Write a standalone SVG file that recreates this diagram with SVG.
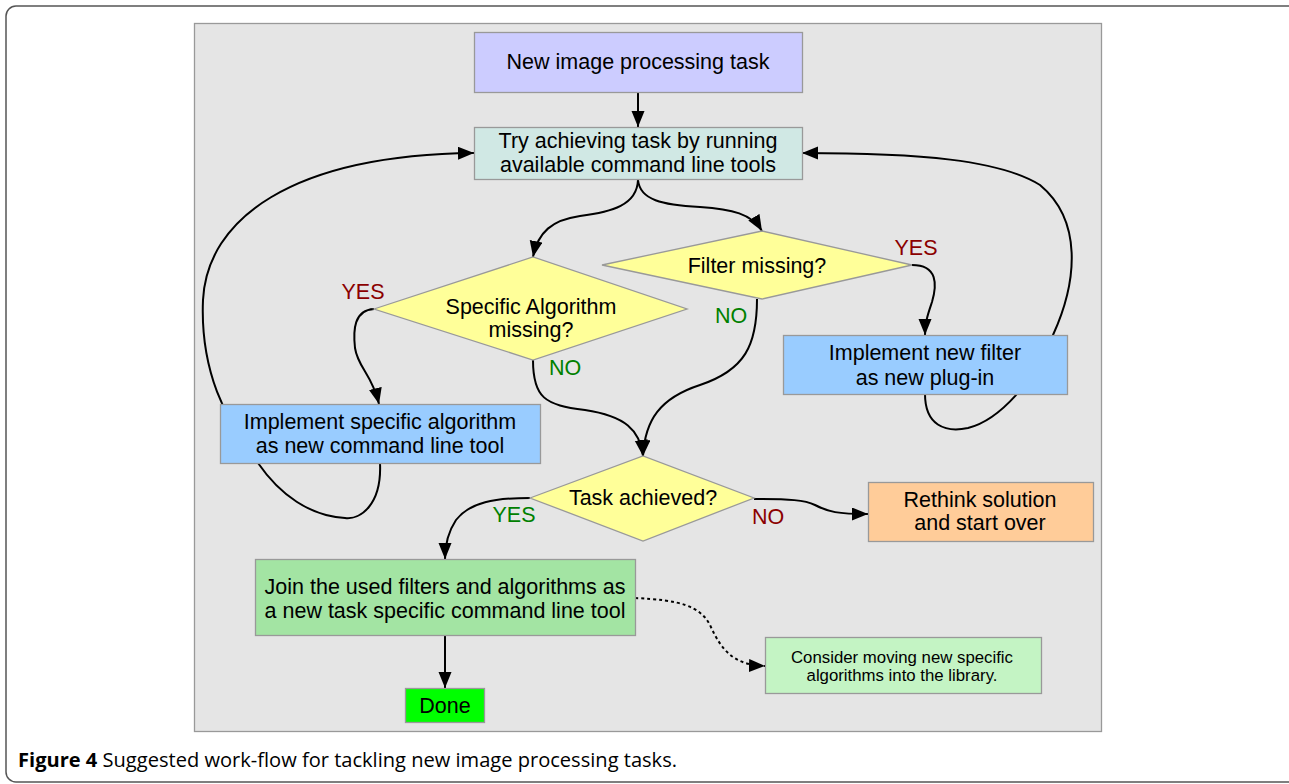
<svg xmlns="http://www.w3.org/2000/svg" width="1289" height="784" viewBox="0 0 1289 784">
<style>
.t{font-family:"Liberation Sans",Arial,sans-serif;font-size:21.5px;fill:#000;text-anchor:middle;dominant-baseline:central}
.s{font-size:16.8px}
.box{stroke:#999;stroke-width:1.3}
.c{fill:none;stroke:#000;stroke-width:2;marker-end:url(#ah)}
.red{fill:#8b0000}
.grn{fill:#008000}
</style>
<defs>
<marker id="ah" markerUnits="userSpaceOnUse" markerWidth="17" markerHeight="14" refX="16" refY="6.5" orient="auto">
<path d="M0,0 L16,6.5 L0,13 z" fill="#000"/>
</marker>
</defs>
<rect x="6" y="6" width="1300" height="776" rx="10" fill="#fff" stroke="#555" stroke-width="1.5"/>
<rect x="194.5" y="23.5" width="907" height="708" fill="#e5e5e5" stroke="#999" stroke-width="1.3"/>
<g id="connectors">
<path class="c" d="M638,92 L638,127"/>
<path class="c" d="M638,180 C637,205 612,212 580,216 C552,220 538,232 533,257"/>
<path class="c" d="M638,180 C640,200 662,205 700,207 C732,209 752,214 762,231"/>
<path class="c" d="M374,309 C354,310 353,330 355,348 C358,368 372,374 379,404"/>
<path class="c" d="M912,265 C938,265 937,285 932,302 C928,314 925,322 925,335"/>
<path class="c" d="M380,463 C382,505 360,520 345,518 C310,516 280,495 258,463 C225,420 200,370 203,300 C207,220 290,155 474,153"/>
<path class="c" d="M925,394 C925,425 945,433 968,428 C1000,420 1035,380 1053,335 C1078,280 1082,220 1040,185 C1000,160 920,153 802,153"/>
<path class="c" d="M533,360 C533,398 545,405 585,410 C625,416 640,430 643,456"/>
<path class="c" d="M757,299 C757,345 745,370 700,385 C660,398 645,420 643,456"/>
<path class="c" d="M530,498 C495,498 470,502 456,520 C448,532 445,545 445,559"/>
<path class="c" d="M754,499 C790,499 805,500 815,505 C828,512 838,514 868,514"/>
<path class="c" d="M445,635 L445,688"/>
<path class="c" stroke-dasharray="3,3" d="M635,598 C680,600 700,606 710,625 C722,652 735,665 765,666"/>
</g>
<g id="n_new">
<rect class="box" x="474.5" y="32.5" width="328" height="60" fill="#ccccff"/>
<text class="t" x="638" y="62">New image processing task</text>
</g>
<g id="n_try">
<rect class="box" x="474.5" y="127.5" width="328" height="52" fill="#d0e8e4"/>
<text class="t" x="638" y="141">Try achieving task by running</text>
<text class="t" x="638" y="165">available command line tools</text>
</g>
<g id="n_specific">
<polygon class="box" points="374,309 533,257 687,309 533,360" fill="#ffff99"/>
<text class="t" x="531" y="307">Specific Algorithm</text>
<text class="t" x="531" y="330">missing?</text>
</g>
<g id="n_filter">
<polygon class="box" points="602,265 762,231 912,265 762,299" fill="#ffff99"/>
<text class="t" x="757" y="266">Filter missing?</text>
</g>
<g id="n_implfilter">
<rect class="box" x="783.5" y="335.5" width="284" height="59" fill="#99ccff"/>
<text class="t" x="925" y="353">Implement new filter</text>
<text class="t" x="925" y="378">as new plug-in</text>
</g>
<g id="n_implalgo">
<rect class="box" x="220.5" y="404.5" width="320" height="59" fill="#99ccff"/>
<text class="t" x="380" y="422">Implement specific algorithm</text>
<text class="t" x="380" y="446">as new command line tool</text>
</g>
<g id="n_task">
<polygon class="box" points="530,498 643,456 754,498 643,541" fill="#ffff99"/>
<text class="t" x="643" y="498">Task achieved?</text>
</g>
<g id="n_rethink">
<rect class="box" x="868.5" y="482.5" width="225" height="59" fill="#ffcc99"/>
<text class="t" x="980" y="500">Rethink solution</text>
<text class="t" x="980" y="523">and start over</text>
</g>
<g id="n_join">
<rect class="box" x="255.5" y="559.5" width="380" height="76" fill="#a3e4a3"/>
<text class="t" x="445" y="587">Join the used filters and algorithms as</text>
<text class="t" x="445" y="611">a new task specific command line tool</text>
</g>
<g id="n_consider">
<rect class="box" x="765.5" y="637.5" width="276" height="56" fill="#c4f4c4"/>
<text class="t s" x="902" y="657">Consider moving new specific</text>
<text class="t s" x="902" y="675">algorithms into the library.</text>
</g>
<g id="n_done">
<rect class="box" x="405.5" y="688.5" width="79" height="34" fill="#00ff00"/>
<text class="t" x="445" y="706">Done</text>
</g>
<g id="labels">
<text class="t red" x="363" y="292">YES</text>
<text class="t red" x="916" y="248">YES</text>
<text class="t grn" x="565" y="368">NO</text>
<text class="t grn" x="731" y="316">NO</text>
<text class="t grn" x="514" y="515">YES</text>
<text class="t red" x="768" y="517">NO</text>
</g>
<text x="18" y="767" style="font-family:'Open Sans','Noto Sans',sans-serif;font-size:19.5px;fill:#000" textLength="659" lengthAdjust="spacingAndGlyphs"><tspan font-weight="bold">Figure 4</tspan> Suggested work-flow for tackling new image processing tasks.</text>
</svg>
